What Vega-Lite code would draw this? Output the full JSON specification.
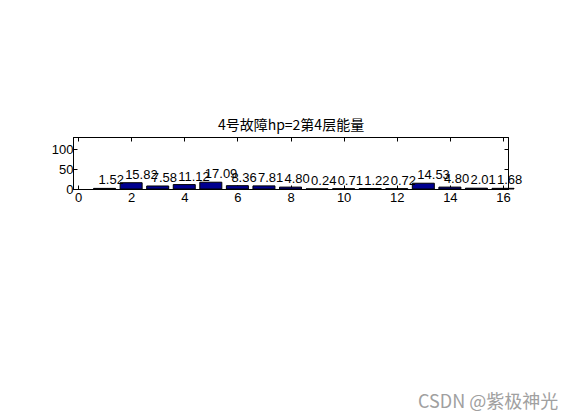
{
  "$schema": "https://vega.github.io/schema/vega-lite/v6.json",
  "autosize": {"type": "none"},
  "padding": {"left": 73, "top": 137, "right": 54, "bottom": 231},
  "width": 435,
  "height": 52,
  "background": "white",
  "config": {
    "view": {"stroke": "black", "strokeWidth": 1},
    "axis": {"grid": false, "domainColor": "black", "tickColor": "black", "labelColor": "black", "labelFont": "Liberation Sans", "labelFontSize": 13, "tickSize": -4, "labelPadding": 6, "domain": true, "labelFlush": false, "labelOverlap": false}
  },
  "title": {"text": "CSDN @紫极神光", "orient": "bottom", "anchor": "end", "font": "Noto Sans CJK SC", "fontSize": 18, "fontWeight": "normal", "color": "#a0a0a0", "offset": 190, "dx": 36},
  "data": {"values": [
    {"band": 1, "energy": 1.52},
    {"band": 2, "energy": 15.82},
    {"band": 3, "energy": 7.58},
    {"band": 4, "energy": 11.12},
    {"band": 5, "energy": 17.09},
    {"band": 6, "energy": 8.36},
    {"band": 7, "energy": 7.81},
    {"band": 8, "energy": 4.80},
    {"band": 9, "energy": 0.24},
    {"band": 10, "energy": 0.71},
    {"band": 11, "energy": 1.22},
    {"band": 12, "energy": 0.72},
    {"band": 13, "energy": 14.53},
    {"band": 14, "energy": 4.80},
    {"band": 15, "energy": 2.01},
    {"band": 16, "energy": 1.68}
  ]},
  "layer": [
    {
      "mark": {"type": "bar", "size": 22, "color": "#00008f", "stroke": "black", "strokeWidth": 1},
      "encoding": {
        "x": {"field": "band", "type": "quantitative", "scale": {"domain": [0, 16], "nice": false, "zero": false}, "axis": {"orient": "bottom", "values": [0, 2, 4, 6, 8, 10, 12, 14, 16], "title": null}},
        "y": {"field": "energy", "type": "quantitative", "scale": {"domain": [0, 131], "nice": false}, "axis": {"orient": "left", "values": [0, 50, 100], "title": null, "labelPadding": 4}}
      }
    },
    {
      "mark": {"type": "text", "align": "left", "baseline": "alphabetic", "dx": -6, "dy": -4, "font": "Liberation Sans", "fontSize": 13, "color": "black"},
      "encoding": {
        "x": {"field": "band", "type": "quantitative", "axis": {"orient": "top", "values": [0, 2, 4, 6, 8, 10, 12, 14, 16], "labels": false, "title": "4号故障hp=2第4层能量", "titleFont": "Noto Sans CJK SC", "titleFontSize": 14, "titleFontWeight": "normal", "titlePadding": 4}},
        "y": {"field": "energy", "type": "quantitative", "axis": {"orient": "right", "values": [0, 50, 100], "labels": false, "title": null}},
        "text": {"field": "energy", "type": "quantitative", "format": ".2f"}
      }
    }
  ],
  "resolve": {"axis": {"x": "independent", "y": "independent"}}
}
